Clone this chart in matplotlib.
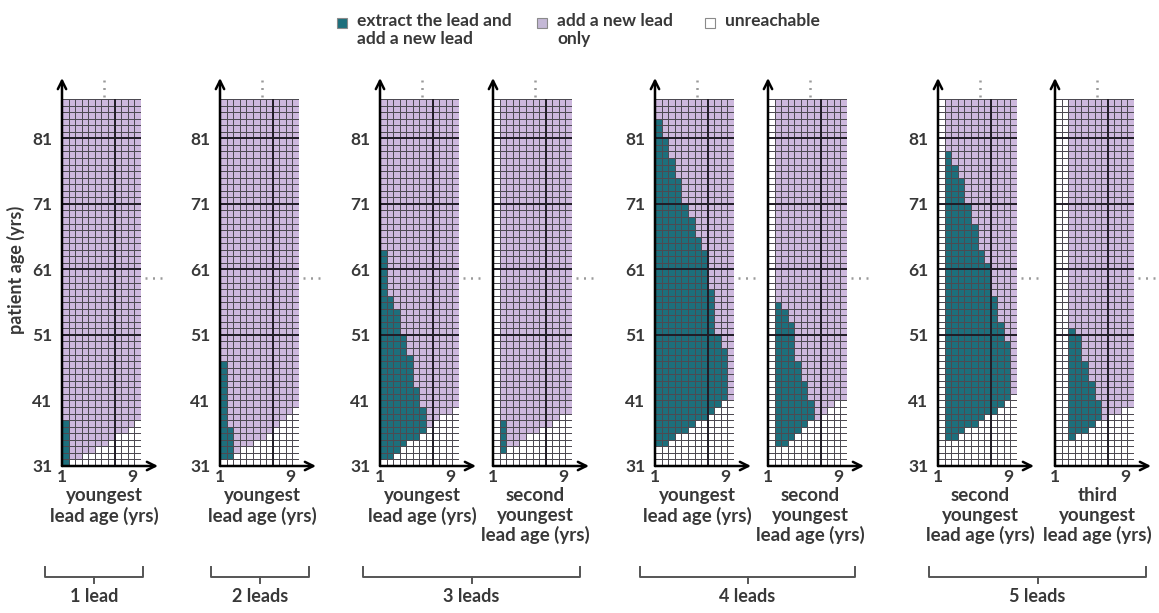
import numpy as np
import matplotlib.pyplot as plt
from matplotlib.colors import ListedColormap
from matplotlib.patches import Rectangle
from matplotlib.lines import Line2D

plt.rcParams['font.family'] = ['Lato', 'DejaVu Sans']
plt.rcParams['font.weight'] = 'bold'

# grid: one row per year of patient age, 12 lead-age columns
patient_age = np.arange(31, 88)
lead_age = np.linspace(1, 10, 13)
age_ticks = [31, 41, 51, 61, 71, 81]
lead_ticks = [1, 9]

# rows unreachable at the bottom of each column, and the top age (exclusive)
# of the "extract the lead and add a new lead" region (0 = none)
unreach_1 = [0, 1, 1, 2, 2, 3, 3, 4, 5, 5, 6, 7]
extract_1 = [38, 0, 0, 0, 0, 0, 0, 0, 0, 0, 0, 0]

unreach_2 = [1, 1, 2, 3, 3, 4, 4, 5, 6, 7, 8, 9]
extract_2 = [47, 37, 0, 0, 0, 0, 0, 0, 0, 0, 0, 0]

unreach_3a = [1, 1, 2, 3, 4, 4, 5, 6, 7, 8, 8, 9]
extract_3a = [64, 57, 55, 51, 48, 43, 40, 0, 0, 0, 0, 0]
unreach_3b = [56, 2, 3, 3, 4, 5, 5, 6, 6, 7, 8, 8]
extract_3b = [0, 38, 0, 0, 0, 0, 0, 0, 0, 0, 0, 0]

unreach_4a = [3, 3, 4, 5, 5, 6, 7, 7, 8, 9, 10, 10]
extract_4a = [84, 81, 78, 75, 71, 69, 66, 64, 58, 51, 49, 0]
unreach_4b = [56, 3, 3, 4, 5, 6, 7, 7, 8, 9, 10, 10]
extract_4b = [0, 56, 55, 53, 47, 44, 41, 0, 0, 0, 0, 0]

unreach_5a = [56, 4, 4, 5, 6, 6, 7, 8, 8, 9, 10, 11]
extract_5a = [0, 79, 77, 75, 71, 68, 64, 62, 57, 53, 50, 0]
unreach_5b = [56, 56, 4, 5, 5, 6, 7, 7, 8, 8, 9, 9]
extract_5b = [0, 0, 52, 51, 47, 44, 41, 0, 0, 0, 0, 0]

panel_unreach = [unreach_1, unreach_2, unreach_3a, unreach_3b,
                 unreach_4a, unreach_4b, unreach_5a, unreach_5b]
panel_extract = [extract_1, extract_2, extract_3a, extract_3b,
                 extract_4a, extract_4b, extract_5a, extract_5b]
panel_xlabel = ["youngest\nlead age (yrs)", "youngest\nlead age (yrs)",
                "youngest\nlead age (yrs)", "second\nyoungest\nlead age (yrs)",
                "youngest\nlead age (yrs)", "second\nyoungest\nlead age (yrs)",
                "second\nyoungest\nlead age (yrs)", "third\nyoungest\nlead age (yrs)"]
group_names = ["1 lead", "2 leads", "3 leads", "4 leads", "5 leads"]
group_panels = [[0], [1], [2, 3], [4, 5], [6, 7]]

legend_labels = ["extract the lead and\nadd a new lead", "add a new lead\nonly", "unreachable"]

TEAL = '#1d6f7c'
LAV = '#cdb8dd'
TXT = '#383838'
cmap = ListedColormap(['white', LAV, TEAL])

W, H = 1159, 613
fig = plt.figure(figsize=(W / 100, H / 100), dpi=100)


def fx(px):
    return px / W


def fy(py):
    return 1 - py / H


def build(unreach, extract):
    z = np.ones((len(patient_age) - 1, len(lead_age) - 1))
    for c, (w, top) in enumerate(zip(unreach, extract)):
        z[:w, c] = 0
        if top:
            z[w:top - patient_age[0], c] = 2
    return z


panel_left = [62, 220, 380, 493, 655, 768, 938, 1055]
pw, top_px, bot_px = 79, 99, 466
group_start = [g[0] for g in group_panels]
dots = (0, (0.8, 2.2))

for i, left in enumerate(panel_left):
    ax = fig.add_axes([fx(left), fy(bot_px), fx(pw), (bot_px - top_px) / H])
    z = build(panel_unreach[i], panel_extract[i])
    ax.pcolormesh(lead_age, patient_age, z, cmap=cmap, vmin=0, vmax=2,
                  edgecolors='#4d4a52', linewidth=0.7)
    ax.hlines([51, 61, 71, 81], lead_age[0], lead_age[-1], color='#201c26', lw=1.4)
    ax.vlines(lead_age[8], patient_age[0], patient_age[-1], color='#201c26', lw=1.4)
    ax.set_xlim(lead_age[0], lead_age[-1])
    ax.set_ylim(patient_age[0], patient_age[-1])
    for s in ax.spines.values():
        s.set_visible(False)
    ax.set_xticks(lead_ticks)
    ax.set_xticklabels([str(t) for t in lead_ticks], fontsize=12.5, color=TXT)
    ax.tick_params(length=0, pad=2)
    ax.set_yticks(age_ticks)
    if i in group_start:
        ax.set_yticklabels([str(t) for t in age_ticks], fontsize=12.5, color=TXT)
        ax.tick_params(axis='y', pad=7)
    else:
        ax.set_yticklabels([])

    # axis arrows
    ax.annotate('', xy=(0, (bot_px - 78) / (bot_px - top_px)), xytext=(0, 0),
                xycoords='axes fraction', annotation_clip=False,
                arrowprops=dict(arrowstyle='->,head_length=0.6,head_width=0.3',
                                lw=1.8, color='black', shrinkA=0, shrinkB=0))
    ax.annotate('', xy=(1 + 17 / pw, 0), xytext=(0, 0),
                xycoords='axes fraction', annotation_clip=False,
                arrowprops=dict(arrowstyle='->,head_length=0.6,head_width=0.3',
                                lw=1.8, color='black', shrinkA=0, shrinkB=0))

    # continuation dots
    ax.plot([5.8, 5.8], [87.3, 89.9], ls=dots, color='#9a9a9a', lw=1.8, clip_on=False)
    ax.plot([10.5, 12.5], [59.7, 59.7], ls=dots, color='#9a9a9a', lw=1.8, clip_on=False)

    fig.text(fx(left + pw / 2 + 3), fy(487), panel_xlabel[i], ha='center', va='top',
             fontsize=13.5, color=TXT, linespacing=1.18)

fig.text(fx(16), fy(270), "patient age (yrs)", rotation=90, ha='center', va='center',
         fontsize=13, color=TXT)

# group brackets
bracket_px = [(45, 143), (211, 309), (363, 580), (640, 855), (929, 1146)]
for (x0, x1), name in zip(bracket_px, group_names):
    xm = (x0 + x1) / 2
    fig.add_artist(Line2D([fx(x0), fx(x0), fx(x1), fx(x1)],
                          [fy(567), fy(577), fy(577), fy(567)], color='#555555', lw=1.4))
    fig.add_artist(Line2D([fx(xm), fx(xm)], [fy(577), fy(583)], color='#555555', lw=1.4))
    fig.text(fx(xm), fy(596), name, ha='center', va='center', fontsize=13, color=TXT)

# legend
legend_x = [337, 537, 705]
for lx, col, lab in zip(legend_x, [TEAL, '#c4b8d6', 'white'], legend_labels):
    fig.add_artist(Rectangle((fx(lx), fy(28)), fx(10), 10 / H, facecolor=col,
                             edgecolor='#8a8a8a', lw=0.8))
    fig.text(fx(lx + 20), fy(13), lab, ha='left', va='top', fontsize=12.5,
             color=TXT, linespacing=1.12)

fig.savefig('out.png', dpi=100)
